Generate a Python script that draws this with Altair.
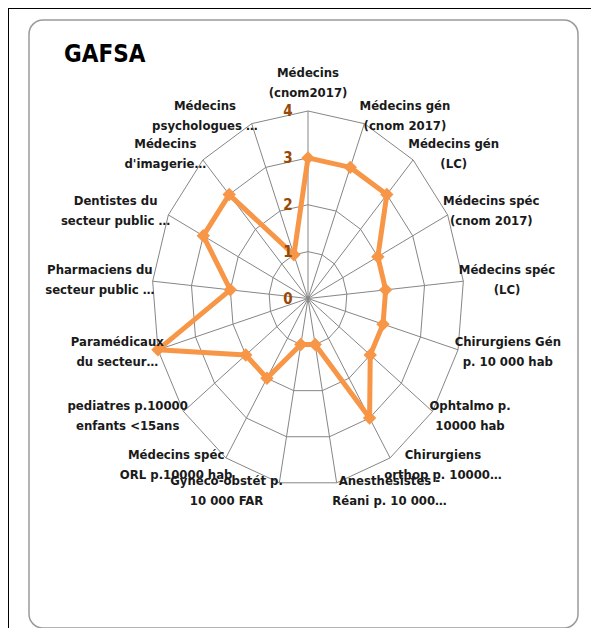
import altair as alt
import pandas as pd

# ---------------- data ----------------
title_text = "GAFSA"
line1 = ["Médecins", "Médecins gén", "Médecins gén", "Médecins spéc", "Médecins spéc",
         "Chirurgiens Gén", "Ophtalmo p.", "Chirurgiens", "Anesthésistes -",
         "Gynéco-obstét p.", "Médecins spéc", "pediatres p.10000", "Paramédicaux",
         "Pharmaciens du", "Dentistes du", "Médecins", "Médecins"]
line2 = ["(cnom2017)", "(cnom 2017)", "(LC)", "(cnom 2017)", "(LC)",
         "p. 10 000 hab", "10000 hab", "orthop p. 10000…", "Réani p. 10 000…",
         "10 000 FAR", "ORL p.10000 hab", "enfants <15ans", "du secteur…",
         "secteur public …", "secteur public …", "d'imagerie…", "psychologues …"]
values = [3, 3, 3, 2, 2, 2, 2, 3, 1, 1, 2, 2, 4, 2, 3, 3, 1]
ring_levels = [1, 2, 3, 4]
tick_levels = [0, 1, 2, 3, 4]
tick_labels = ["0", "1", "2", "3", "4"]

# ---------------- layout ----------------
W, H = 583, 620
CX, CY = 300, 290.5          # centre of radar in chart pixels
RX, RY = 156, 187.5          # pixel radius of the value 4 ring (x / y)
VMAX = 4
N = len(values)
UX, UY = RX / VMAX, RY / VMAX
xdom = [-CX / UX, (W - CX) / UX]
ydom = [-(H - CY) / UY, CY / UY]
LH = 20                      # label line height

FONT = "Liberation Sans Narrow, DejaVu Sans Condensed, Arial Narrow, sans-serif"
ORANGE = "#F79646"
GRID = "#868686"

cats = pd.DataFrame({"k": list(range(N)), "l1": line1, "l2": line2, "value": values})
closed = pd.concat([cats, cats.iloc[[0]].assign(k=N)], ignore_index=True)
rings = pd.DataFrame([{"level": lv, "k": k} for lv in ring_levels for k in range(N + 1)])
ticks = pd.DataFrame({"level": tick_levels, "lab": tick_labels})

xs = alt.Scale(domain=xdom, nice=False, zero=False)
ys = alt.Scale(domain=ydom, nice=False, zero=False)
ang = f"2*PI*datum.k/{N}"

def X(f):
    return alt.X(f + ":Q", scale=xs, axis=None)

def Y(f):
    return alt.Y(f + ":Q", scale=ys, axis=None)

# frame
frame = alt.Chart(pd.DataFrame({"a": [0]})).mark_rect(
    cornerRadius=14, fill="white", stroke="#9a9a9a", strokeWidth=1.5
).encode(x=alt.value(21), x2=alt.value(570), y=alt.value(12), y2=alt.value(620))

left_border = alt.Chart(pd.DataFrame({"a": [0]})).mark_rule(
    color="black", strokeWidth=2
).encode(x=alt.value(0), y=alt.value(0), y2=alt.value(H))
top_border = alt.Chart(pd.DataFrame({"a": [0]})).mark_rule(
    color="black", strokeWidth=2
).encode(y=alt.value(0), x=alt.value(0), x2=alt.value(W))

title = alt.Chart(pd.DataFrame({"t": [title_text]})).mark_text(
    align="left", baseline="middle", font=FONT, fontSize=24, fontWeight="bold", color="black"
).encode(x=alt.value(56), y=alt.value(47), text="t:N")

# grid rings
ring_layer = alt.Chart(rings).transform_calculate(
    gx=f"datum.level*sin({ang})", gy=f"datum.level*cos({ang})"
).mark_line(color=GRID, strokeWidth=1).encode(
    x=X("gx"), y=Y("gy"), detail="level:N", order="k:Q"
)

# spokes
spokes = alt.Chart(cats).transform_calculate(
    sx=f"{VMAX}*sin({ang})", sy=f"{VMAX}*cos({ang})", ox="0", oy="0"
).mark_rule(color=GRID, strokeWidth=1).encode(
    x=X("ox"), y=Y("oy"), x2="sx:Q", y2="sy:Q"
)

# data series
series_base = alt.Chart(closed).transform_calculate(
    px=f"datum.value*sin({ang})", py=f"datum.value*cos({ang})"
)
series_line = series_base.mark_line(color=ORANGE, strokeWidth=5, strokeJoin="round").encode(
    x=X("px"), y=Y("py"), order="k:Q"
)
series_pts = series_base.transform_filter(f"datum.k < {N}").mark_point(
    shape="diamond", filled=True, size=180, color=ORANGE, opacity=1
).encode(x=X("px"), y=Y("py"))

# value labels on the vertical axis
tick_text = alt.Chart(ticks).transform_calculate(tx="0").mark_text(
    font=FONT, fontSize=15, fontWeight="bold", color="#984807", dx=-20,
    align="center", baseline="middle"
).encode(x=X("tx"), y=Y("level"), text="lab:N")

# category labels (first line is placed at the anchor, so shift block up by LH/2)
cat_text = alt.Chart(cats).transform_calculate(
    s=f"sin({ang})", c=f"cos({ang})",
    w="max(length(datum.l1), length(datum.l2))*6.1",
    sg="abs(datum.s) < 0.1 ? 0 : (datum.s > 0 ? 1 : -1)",
    lx=f"{VMAX}*datum.s + datum.sg*(datum.w/2 + 4)/{UX}",
    ly=f"{VMAX}*datum.c + (datum.sg == 0 ? 28/{UY} : datum.c*8/{UY}) + {LH/2}/{UY}",
    lab="datum.l1 + '\\n' + datum.l2",
).mark_text(
    font=FONT, fontSize=13, fontWeight="bold", color="#1a1a1a",
    align="center", baseline="middle", lineBreak="\n", lineHeight=LH
).encode(x=X("lx"), y=Y("ly"), text="lab:N")

chart = alt.layer(
    frame, left_border, top_border, title, ring_layer, spokes,
    series_line, series_pts, tick_text, cat_text
).properties(
    width=W, height=H, padding=0, autosize=alt.AutoSizeParams(type="none")
).configure_view(stroke=None)

chart.save("out.html", embed_options={"renderer": "svg", "actions": False})
